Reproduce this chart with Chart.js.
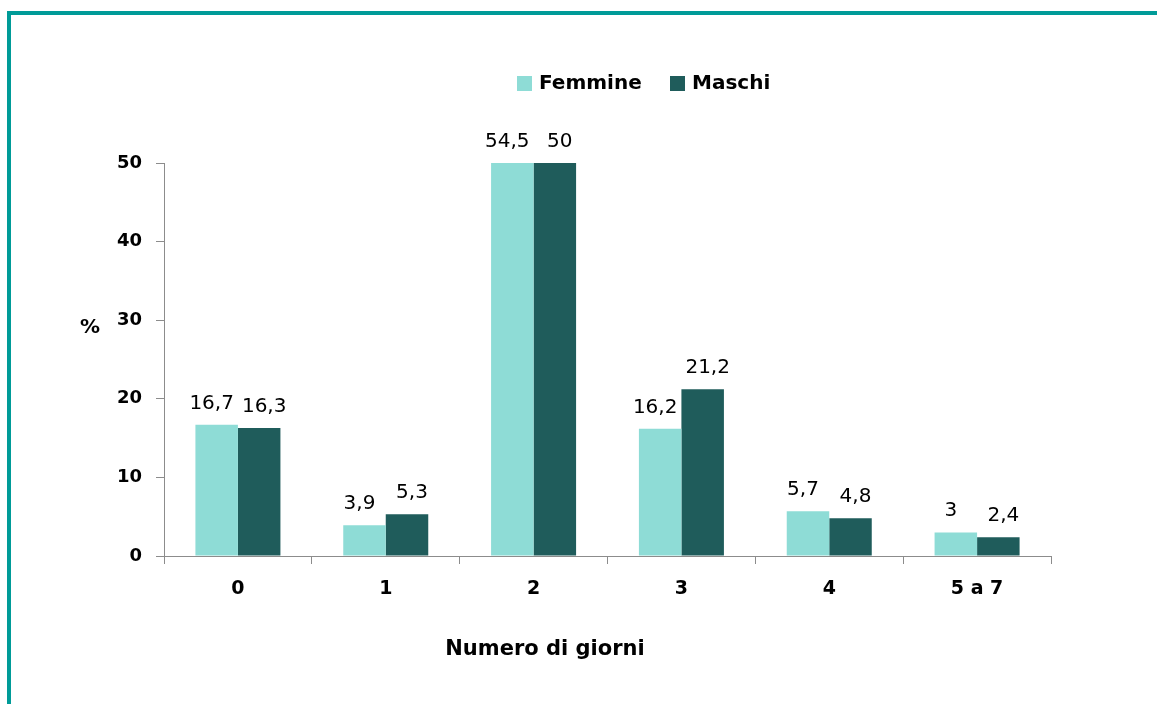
<!DOCTYPE html>
<html>
<head>
<meta charset="utf-8">
<script src="https://cdn.jsdelivr.net/npm/chart.js@4"></script>
<style>
  html, body { margin: 0; padding: 0; background: #fff; }
  #wrap { position: relative; width: 1157px; height: 704px; overflow: hidden; }
  #frame { position: absolute; left: 7px; top: 11px; width: 1200px; height: 760px;
           border: 4px solid #009b98; box-sizing: border-box; }
  canvas { position: absolute; left: 0; top: 0; }
</style>
</head>
<body>
<div id="wrap">
  <div id="frame"></div>
  <canvas id="chart" width="1157" height="704"></canvas>
</div>
<script>
// dati
const categories = ["0", "1", "2", "3", "4", "5 a 7"];
const femmine = [16.7, 3.9, 54.5, 16.2, 5.7, 3];
const maschi = [16.3, 5.3, 50, 21.2, 4.8, 2.4];
const seriesNames = ["Femmine", "Maschi"];
const colors = ["#8edcd6", "#1f5c5b"];

const FONT = "'DejaVu Sans', sans-serif";

// etichette, legenda e titoli disegnati a mano
const extras = {
  id: "extras",
  afterDatasetsDraw(chart) {
    const ctx = chart.ctx;
    const area = chart.chartArea;
    ctx.save();
    ctx.fillStyle = "#000";
    ctx.textAlign = "center";
    ctx.textBaseline = "alphabetic";
    ctx.font = "20px " + FONT;
    chart.data.datasets.forEach((ds, i) => {
      const nudge = i === 0 ? -5 : 5; // separa un po' le etichette vicine
      chart.getDatasetMeta(i).data.forEach((bar, j) => {
        const top = Math.max(bar.y, area.top);
        ctx.fillText(String(ds.data[j]).replace(".", ","), bar.x + nudge, top - 16);
      });
    });

    // legenda
    ctx.font = "bold 20px " + FONT;
    ctx.textAlign = "left";
    ctx.textBaseline = "middle";
    const legendX = [517, 670];
    seriesNames.forEach((name, i) => {
      ctx.fillStyle = colors[i];
      ctx.fillRect(legendX[i], 76, 15, 15);
      ctx.fillStyle = "#000";
      ctx.fillText(name, legendX[i] + 22, 84);
    });

    // titoli assi
    ctx.textAlign = "center";
    ctx.fillText("%", 90, 328);
    ctx.font = "bold 21px " + FONT;
    ctx.fillText("Numero di giorni", 545, 650);
    ctx.restore();
  }
};

new Chart(document.getElementById("chart"), {
  type: "bar",
  data: {
    labels: categories,
    datasets: [
      { label: seriesNames[0], data: femmine, backgroundColor: colors[0] },
      { label: seriesNames[1], data: maschi, backgroundColor: colors[1] }
    ]
  },
  options: {
    responsive: false,
    animation: false,
    layout: { padding: { top: 163, right: 106, left: 0, bottom: 0 } },
    plugins: { legend: { display: false }, tooltip: { enabled: false } },
    datasets: { bar: { categoryPercentage: 0.575, barPercentage: 1 } },
    scales: {
      x: {
        grid: { drawOnChartArea: false, tickLength: 8, color: "#8c8c8c", offset: true },
        border: { color: "#8c8c8c", width: 1 },
        ticks: { color: "#000", padding: 14, font: { family: FONT, size: 19, weight: "bold" } },
        afterFit(scale) { scale.height = 704 - 556; }
      },
      y: {
        min: 0,
        max: 50,
        ticks: { stepSize: 10, color: "#000", padding: 14, font: { family: FONT, size: 18, weight: "bold" } },
        grid: { drawOnChartArea: false, tickLength: 8, color: "#8c8c8c" },
        border: { color: "#8c8c8c", width: 1 },
        afterFit(scale) { scale.width = 164; }
      }
    }
  },
  plugins: [extras]
});
</script>
</body>
</html>
